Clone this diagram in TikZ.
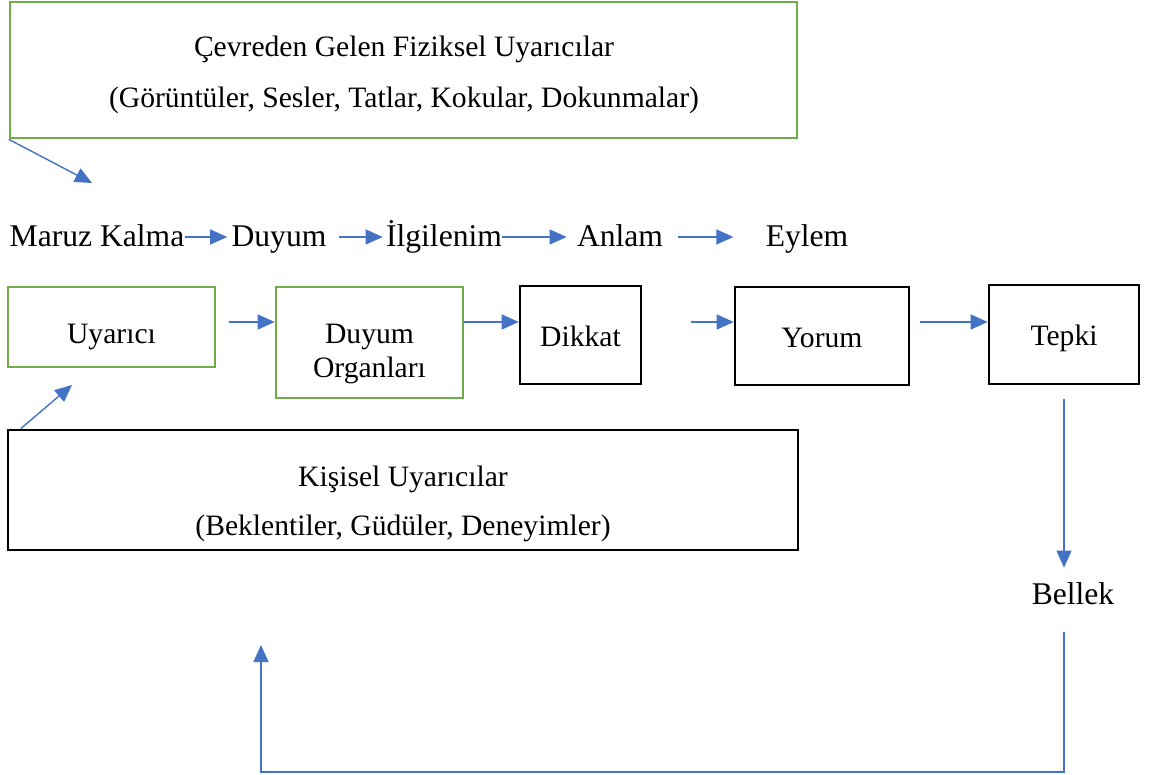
\documentclass[tikz,border=0pt]{standalone}
\usepackage{fontspec}
\setmainfont{Liberation Serif}
\usetikzlibrary{arrows.meta}
\definecolor{boxgreen}{RGB}{112,173,71}
\definecolor{flowblue}{RGB}{68,114,196}
\tikzset{
   greenbox/.style={draw=boxgreen, line width=1.3pt, inner sep=0pt, align=center,
      text height=14pt, text depth=3pt, font=\fontsize{14.8}{17}\selectfont},
   blackbox/.style={draw=black, line width=1.3pt, inner sep=0pt, align=center,
      text height=14pt, text depth=3pt, font=\fontsize{14.8}{17}\selectfont},
   boxtext/.style={inner sep=0pt, align=center, font=\fontsize{14.8}{17}\selectfont},
   word/.style={inner sep=0pt, anchor=base, text height=13pt, text depth=3pt,
      font=\fontsize{15.8}{19}\selectfont},
   flow/.style={draw=flowblue, line width=0.7pt, -{Triangle[length=8.5pt,width=7.5pt]}},
}

\begin{document}
\begin{tikzpicture}[x=0.5pt, y=-0.5pt]
            \useasboundingbox (0,0) rectangle (1150,775);
            % outer stimuli
            \node[greenbox, minimum width=393.5pt, minimum height=68pt] (cevre) at (403.5,70) {};
            \node[boxtext] (cevretext) at (404,75) {Çevreden Gelen Fiziksel Uyarıcılar\\[8.5pt](Görüntüler, Sesler, Tatlar, Kokular, Dokunmalar)};
            \coordinate (cevrehead) at (92,183);
            \draw[flow](cevre.south west) to (cevrehead);
            % stage words
            \node[word] (maruz) at (97,247) {Maruz Kalma};
            \node[word] (duyum) at (279,247) {Duyum};
            \node[word] (ilgi) at (444,247) {İlgilenim};
            \node[word] (anlam) at (620,247) {Anlam};
            \node[word] (eylem) at (807,247) {Eylem};
            \draw[flow, shorten >=2pt](maruz.east) to (duyum.west);
            \draw[flow, shorten <=6pt, shorten >=1.5pt](duyum.east) to (ilgi.west);
            \draw[flow, shorten >=5pt](ilgi.east) to (anlam.west);
            \draw[flow, shorten <=7.5pt, shorten >=16pt](anlam.east) to (eylem.west);
            % process boxes
            \node[greenbox, minimum width=103.5pt, minimum height=40pt, text height=18pt, text depth=2pt] (uyarici) at (111.5,327) {Uyarıcı};
            \node[greenbox, minimum width=93.5pt, minimum height=55.5pt, text height=37.5pt, text depth=3pt] (organ) at (369.5,342.5) {Duyum\\[0pt]Organları};
            \node[blackbox, minimum width=60.5pt, minimum height=49pt] (dikkat) at (580.5,335) {Dikkat};
            \node[blackbox, minimum width=87pt, minimum height=49pt] (yorum) at (822,336) {Yorum};
            \node[blackbox, minimum width=75pt, minimum height=49.5pt] (tepki) at (1064,334.5) {Tepki};
            \coordinate (rowline) at (0,322);
            \draw[flow, shorten <=6.5pt](uyarici.east |- rowline) to (organ.west |- rowline);
            \draw[flow](organ.east |- rowline) to (dikkat.west |- rowline);
            \draw[flow, shorten <=24.5pt](dikkat.east |- rowline) to (yorum.west |- rowline);
            \draw[flow, shorten <=5pt](yorum.east |- rowline) to (tepki.west |- rowline);
            % personal stimuli
            \node[blackbox, minimum width=395pt, minimum height=60pt] (kisisel) at (403,490) {};
            \node[boxtext] (kisiseltext) at (403,504) {Kişisel Uyarıcılar\\[7.5pt](Beklentiler, Güdüler, Deneyimler)};
            \coordinate (uyaricihead) at (72,385);
            \draw[flow]([xshift=7pt]kisisel.north west) to (uyaricihead);
            % memory loop
            \node[word] (bellek) at (1073,604) {Bellek};
            \draw[flow, shorten <=7pt, shorten >=5pt](tepki.south) to (tepki.south |- bellek.north);
            \coordinate (loopcorner) at (261,772);
            \coordinate (loopend) at (261,645);
            \draw[flow, shorten <=11pt](bellek.south -| tepki.south) |- (loopcorner) to (loopend);
        \end{tikzpicture}
\end{document}
